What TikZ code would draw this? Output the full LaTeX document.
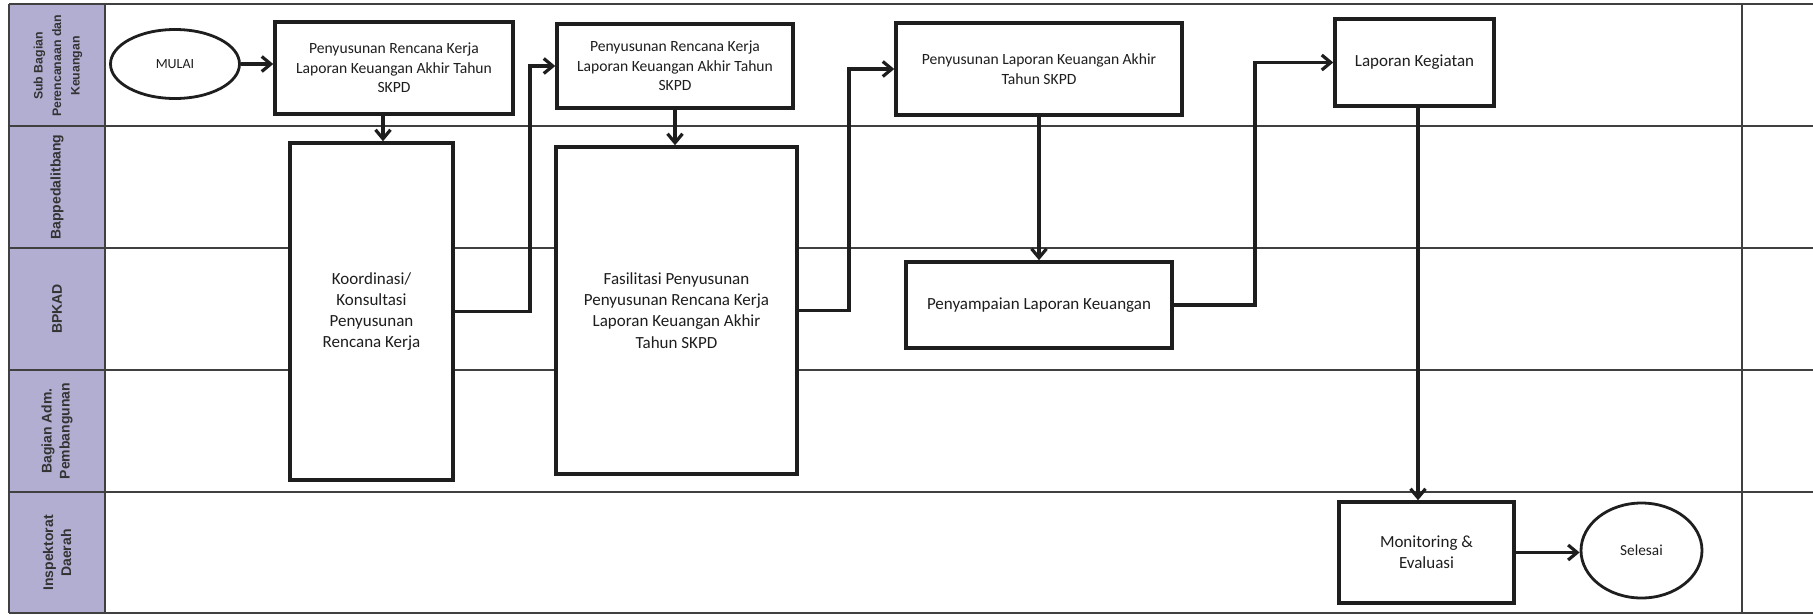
\documentclass[tikz,border=0pt]{standalone}
\usepackage{fontspec}
\setmainfont{Carlito}
\newfontfamily\lanefont{Liberation Sans}
\usetikzlibrary{arrows.meta,shapes.geometric}
\definecolor{lanefill}{RGB}{178,174,210}
\definecolor{ink}{RGB}{30,30,30}
\begin{document}
\begin{tikzpicture}[x=1pt,y=-1pt,
  proc/.style={draw=ink, line width=3.5pt, fill=white, rectangle, inner sep=0pt, align=center, text=ink},
  small/.style={font=\fontsize{15.6}{19.5}\selectfont},
  big/.style={font=\fontsize{17}{21.3}\selectfont},
  term/.style={draw=ink, line width=2.8pt, fill=white, ellipse, inner sep=0pt, text=ink},
  flow/.style={draw=ink, line width=3.5pt, -{Straight Barb[length=9pt,width=15pt,line width=3.2pt]}},
  lane/.style={line width=1.8pt, draw=black!75},
  lanelabel/.style={rotate=90, align=center, text=black!80, font=\lanefont\bfseries\fontsize{14}{18}\selectfont}
]
\useasboundingbox (0,0) rectangle (1813,614);
% swimlane frame
\fill[lanefill] (9,4) rectangle (105,613);
\draw[lane] (9,4) -- (1813,4);
\draw[lane] (9,126) -- (1813,126);
\draw[lane] (9,248) -- (1813,248);
\draw[lane] (9,370) -- (1813,370);
\draw[lane] (9,492) -- (1813,492);
\draw[lane] (9,613) -- (1813,613);
\draw[lane] (9,4) -- (9,613);
\draw[lane] (105,4) -- (105,613);
\draw[lane] (1742,4) -- (1742,613);
% lane labels
\node[lanelabel, font=\lanefont\bfseries\fontsize{12.3}{18.5}\selectfont] (lab1) at (58,66) {Sub Bagian\\Perencanaan dan\\Keuangan};
\node[lanelabel] (lab2) at (57,187) {Bappedalitbang};
\node[lanelabel] (lab3) at (57,309) {BPKAD};
\node[lanelabel] (lab4) at (57,431) {Bagian Adm.\\Pembangunan};
\node[lanelabel] (lab5) at (57,553) {Inspektorat\\Daerah};
% nodes
\node[term, minimum width=129, minimum height=69, font=\fontsize{14}{16}\selectfont] (start) at (175,64) {MULAI};
\node[proc, small, minimum width=238, minimum height=92] (b1) at (394,68) {Penyusunan Rencana Kerja\\Laporan Keuangan Akhir Tahun\\SKPD};
\node[proc, big, minimum width=163, minimum height=337] (b2) at (371.5,311.5) {Koordinasi/\\Konsultasi\\Penyusunan\\Rencana Kerja};
\node[proc, small, minimum width=236, minimum height=84] (b3) at (675,66) {Penyusunan Rencana Kerja\\Laporan Keuangan Akhir Tahun\\SKPD};
\node[proc, big, minimum width=241, minimum height=327] (b4) at (676.5,310.5) {Fasilitasi Penyusunan\\Penyusunan Rencana Kerja\\Laporan Keuangan Akhir\\Tahun SKPD};
\node[proc, small, minimum width=286, minimum height=92] (b5) at (1039,69) {Penyusunan Laporan Keuangan Akhir\\Tahun SKPD};
\node[proc, big, minimum width=266, minimum height=86] (b6) at (1039,305) {Penyampaian Laporan Keuangan};
\node[proc, big, minimum width=159, minimum height=87] (b7) at (1414.5,62.5) {Laporan Kegiatan};
\node[proc, big, minimum width=175, minimum height=101] (b8) at (1426.5,552.5) {Monitoring \&\\Evaluasi};
\node[term, minimum width=121, minimum height=95, font=\fontsize{15.3}{17}\selectfont] (end) at (1641.5,550.5) {Selesai};
% connectors
\draw[flow] (start.east) -- (start.east -| b1.west);
\draw[flow] ([xshift=-11pt]b1.south) -- ([xshift=-11pt]b1.south |- b2.north);
\draw[flow] (b2.east) -- ++(75,0) |- (b3.west);
\draw[flow] (b3.south) -- (b3.south |- b4.north);
\draw[flow] (b4.east) -- ++(50,0) |- (b5.west);
\draw[flow] (b5.south) -- (b6.north);
\draw[flow] (b6.east) -- ++(81,0) |- (b7.west);
\draw[flow] ([xshift=3.5pt]b7.south) -- ([xshift=3.5pt]b7.south |- b8.north);
\draw[flow] (b8.east) -- (b8.east -| end.west);
\end{tikzpicture}
\end{document}
